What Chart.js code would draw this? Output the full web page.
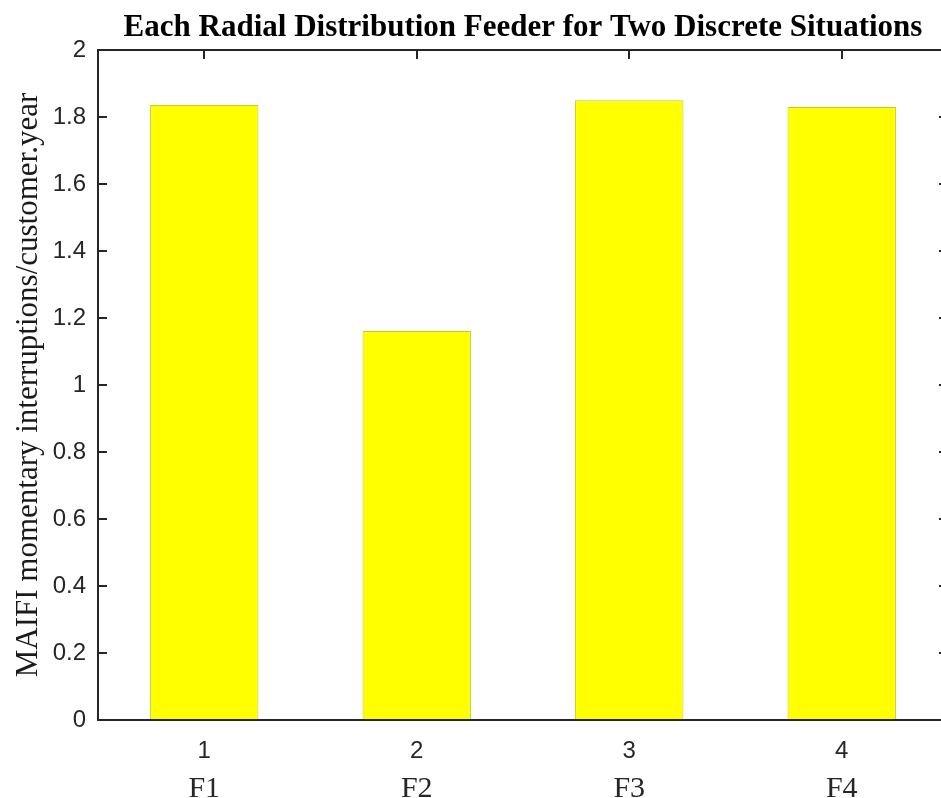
<!DOCTYPE html>
<html>
<head>
<meta charset="utf-8">
<script src="https://cdn.jsdelivr.net/npm/chart.js@4/dist/chart.umd.min.js"></script>
<style>
  html, body { margin: 0; padding: 0; background: #fff; overflow: hidden; width: 941px; height: 798px; }
  canvas { display: block; }
</style>
</head>
<body>
<canvas id="c" width="950" height="798"></canvas>
<script>
const categories = ['1', '2', '3', '4'];
const feederLabels = ['F1', 'F2', 'F3', 'F4'];
const maifi = [1.836, 1.161, 1.85, 1.83];
const chartTitle = 'Each Radial Distribution Feeder for Two Discrete Situations';
const yAxisTitle = 'MAIFI momentary interruptions/customer.year';
const yMin = 0, yMax = 2, yStep = 0.2;

const AXIS = '#262626';

const matlabFrame = {
  id: 'matlabFrame',
  beforeDatasetsDraw(chart) {
    const ctx = chart.ctx, a = chart.chartArea;
    const xs = chart.scales.x, ys = chart.scales.y;
    const L = 9;
    ctx.save();
    ctx.strokeStyle = AXIS;
    ctx.lineWidth = 2;
    ctx.beginPath();
    xs.ticks.forEach((t, i) => {
      const px = Math.round(xs.getPixelForTick(i));
      ctx.moveTo(px, a.top); ctx.lineTo(px, a.top + L);
      ctx.moveTo(px, a.bottom); ctx.lineTo(px, a.bottom - L);
    });
    ys.ticks.forEach((t, i) => {
      const py = Math.round(ys.getPixelForTick(i));
      ctx.moveTo(a.left, py); ctx.lineTo(a.left + L, py);
      ctx.moveTo(a.right, py); ctx.lineTo(a.right - L, py);
    });
    ctx.stroke();
    ctx.restore();
  },
  afterDatasetsDraw(chart) {
    const ctx = chart.ctx, a = chart.chartArea;
    ctx.save();
    ctx.strokeStyle = AXIS;
    ctx.lineWidth = 2;
    ctx.strokeRect(Math.round(a.left), Math.round(a.top), Math.round(a.right - a.left), Math.round(a.bottom - a.top));
    ctx.restore();
  }
};

new Chart(document.getElementById('c'), {
  type: 'bar',
  data: {
    labels: categories,
    datasets: [{
      data: maifi,
      backgroundColor: '#ffff00',
      borderColor: '#c9c926',
      borderWidth: 1,
      barPercentage: 0.51,
      categoryPercentage: 1.0,
      xAxisID: 'x',
      yAxisID: 'y'
    }]
  },
  options: {
    responsive: false,
    animation: false,
    layout: { padding: { left: 0, right: 2, top: 0, bottom: 0 } },
    plugins: {
      legend: { display: false },
      tooltip: { enabled: false },
      title: {
        display: true,
        text: chartTitle,
        fullSize: false,
        color: '#000',
        font: { family: '"Liberation Serif", "Times New Roman", serif', size: 31, weight: 'bold', lineHeight: 1.2 },
        padding: { top: 9, bottom: 3.8 }
      }
    },
    scales: {
      x: {
        type: 'category',
        labels: categories,
        offset: true,
        weight: 0,
        grid: { display: false, drawTicks: false },
        border: { display: false },
        ticks: {
          color: AXIS,
          font: { family: '"Liberation Sans", Arial, sans-serif', size: 24 },
          padding: 17,
          maxRotation: 0
        },
        afterFit(s) { s.height = 42; }
      },
      x2: {
        type: 'category',
        labels: feederLabels,
        position: 'bottom',
        offset: true,
        weight: 1,
        grid: { display: false, drawTicks: false },
        border: { display: false },
        ticks: {
          color: AXIS,
          font: { family: '"Liberation Serif", "Times New Roman", serif', size: 30 },
          padding: 9,
          maxRotation: 0
        },
        afterFit(s) { s.height = 36; }
      },
      y: {
        min: yMin,
        max: yMax,
        grid: { display: false, drawTicks: false },
        border: { display: false },
        ticks: {
          stepSize: yStep,
          color: AXIS,
          font: { family: '"Liberation Sans", Arial, sans-serif', size: 24 },
          padding: 12,
          callback: v => String(Number(v.toFixed(1)))
        },
        title: {
          display: true,
          text: yAxisTitle,
          color: '#1a1a1a',
          font: { family: '"Liberation Serif", "Times New Roman", serif', size: 31, lineHeight: 1.2 },
          padding: { top: 10, bottom: 0 }
        },
        afterFit(s) { s.width = 98; }
      }
    }
  },
  plugins: [matlabFrame]
});
</script>
</body>
</html>
